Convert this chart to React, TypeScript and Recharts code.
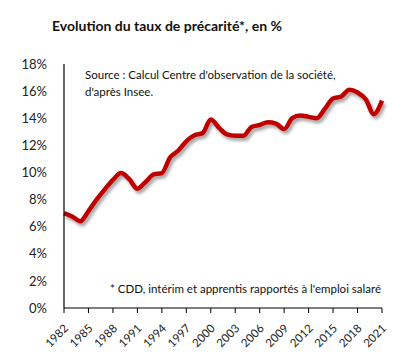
import { LineChart, Line, XAxis, YAxis } from 'recharts'

const years = [
  1982, 1983, 1984, 1985, 1986, 1987, 1988, 1989, 1990, 1991,
  1992, 1993, 1994, 1995, 1996, 1997, 1998, 1999, 2000, 2001,
  2002, 2003, 2004, 2005, 2006, 2007, 2008, 2009, 2010, 2011,
  2012, 2013, 2014, 2015, 2016, 2017, 2018, 2019, 2020, 2021,
]
const rates = [
  7.0, 6.75, 6.4, 7.15, 8.0, 8.75, 9.45, 9.95, 9.5, 8.8,
  9.3, 9.85, 9.95, 11.1, 11.6, 12.3, 12.75, 12.9, 13.9, 13.3,
  12.8, 12.7, 12.7, 13.35, 13.5, 13.7, 13.6, 13.2, 14.0, 14.2,
  14.1, 14.0, 14.7, 15.45, 15.6, 16.1, 15.9, 15.4, 14.3, 15.3,
]
const xTicks = [1982, 1985, 1988, 1991, 1994, 1997, 2000, 2003, 2006, 2009, 2012, 2015, 2018, 2021]
const yTicks = [0, 2, 4, 6, 8, 10, 12, 14, 16, 18]

const data = years.map((year, i) => ({ year, rate: rates[i] }))

const FONT = 'Lato, "Open Sans", sans-serif'

// rotated labels, top-right corner just under the tick
function YearTick({ x = 0, y = 0, payload }: { x?: number; y?: number; payload?: { value: number } }) {
  return (
    <g transform={`translate(${x - 1}, ${y + 8}) rotate(-45)`}>
      <text x={0} y={0} dy={8.5} textAnchor="end" fontSize={11.5} fontFamily={FONT} fill="#222">
        {payload?.value}
      </text>
    </g>
  )
}

export default function App() {
  return (
    <div style={{ position: 'absolute', left: 0, top: 0, width: 401, height: 354, background: '#fff', fontFamily: FONT }}>
      <div style={{ position: 'absolute', left: 52, top: 17, fontSize: 14, fontWeight: 'bold', color: '#111' }}>
        Evolution du taux de précarité*, en %
      </div>
      <LineChart width={401} height={354} data={data} margin={{ top: 64, right: 19, left: 0, bottom: 0 }}>
        <defs>
          <filter id="shadow" x="-10%" y="-10%" width="120%" height="130%">
            <feDropShadow dx="2" dy="3" stdDeviation="1.5" floodColor="#000" floodOpacity="0.35" />
          </filter>
        </defs>
        <XAxis
          dataKey="year"
          type="number"
          domain={[1982, 2021]}
          ticks={xTicks}
          interval={0}
          height={46}
          axisLine={{ stroke: '#000', strokeWidth: 1.2 }}
          tickLine={{ stroke: '#000' }}
          tickSize={5}
          tick={<YearTick />}
        />
        <YAxis
          domain={[0, 18]}
          ticks={yTicks}
          width={64}
          interval={0}
          axisLine={{ stroke: '#000', strokeWidth: 1.2 }}
          tickLine={false}
          tickMargin={11}
          tickFormatter={(v: number) => `${v}%`}
          tick={{ fill: '#222', fontSize: 13, fontFamily: FONT }}
        />
        <Line
          type="monotone"
          dataKey="rate"
          stroke="#C00000"
          strokeWidth={4.5}
          dot={false}
          filter="url(#shadow)"
          isAnimationActive={false}
        />
      </LineChart>
      <div style={{ position: 'absolute', left: 85, top: 66, fontSize: 11.5, lineHeight: '17px', color: '#111' }}>
        Source : Calcul Centre d'observation de la société,
        <br />
        d'après Insee.
      </div>
      <div style={{ position: 'absolute', left: 110, top: 282, fontSize: 11.5, color: '#111' }}>
        * CDD, intérim et apprentis rapportés à l'emploi salaré
      </div>
    </div>
  )
}
